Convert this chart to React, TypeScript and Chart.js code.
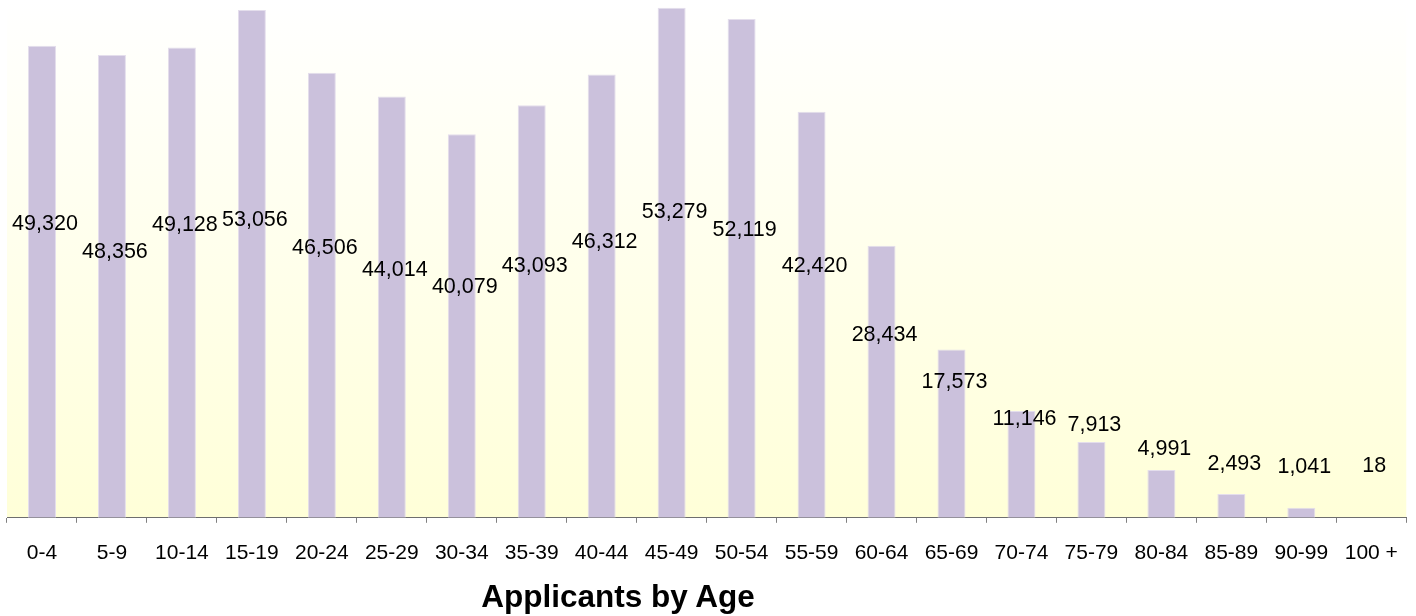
import React, { useEffect, useRef } from "react";
import { Chart, registerables } from "chart.js";

Chart.register(...registerables);

const categories = [
  "0-4", "5-9", "10-14", "15-19", "20-24", "25-29", "30-34", "35-39", "40-44", "45-49",
  "50-54", "55-59", "60-64", "65-69", "70-74", "75-79", "80-84", "85-89", "90-99", "100 +",
];

const applicants = [
  49320, 48356, 49128, 53056, 46506, 44014, 40079, 43093, 46312, 53279,
  52119, 42420, 28434, 17573, 11146, 7913, 4991, 2493, 1041, 18,
];

// Level (in data units) at which each value label sits in the original chart
const labelLevels = [
  30700, 27800, 30600, 31150, 28200, 25900, 24150, 26250, 28850, 31900,
  30100, 26250, 19100, 14200, 10350, 9700, 7200, 5650, 5250, 5450,
];

const titleText = "Applicants by Age";
const FONT = "'Liberation Sans', Arial, sans-serif";

const backgroundPlugin = {
  id: "plotBackground",
  beforeDraw(chart: any) {
    const { ctx, chartArea } = chart;
    if (!chartArea) return;
    const g = ctx.createLinearGradient(0, chartArea.top, 0, chartArea.bottom);
    g.addColorStop(0, "#FFFFFF");
    g.addColorStop(1, "#FFFFD8");
    ctx.save();
    ctx.fillStyle = g;
    ctx.fillRect(chartArea.left, chartArea.top, chartArea.right - chartArea.left, chartArea.bottom - chartArea.top);
    ctx.restore();
  },
};

const valueLabelPlugin = {
  id: "valueLabels",
  afterDatasetsDraw(chart: any) {
    const { ctx } = chart;
    const meta = chart.getDatasetMeta(0);
    const yScale = chart.scales.y;
    ctx.save();
    ctx.font = `21.5px ${FONT}`;
    ctx.fillStyle = "#000000";
    ctx.textAlign = "center";
    ctx.textBaseline = "middle";
    meta.data.forEach((bar: any, i: number) => {
      const y = yScale.getPixelForValue(labelLevels[i]);
      ctx.fillText(applicants[i].toLocaleString("en-US"), bar.x + 3, y);
    });
    ctx.restore();
  },
};

export default function App() {
  const canvasRef = useRef<HTMLCanvasElement | null>(null);

  useEffect(() => {
    document.body.style.margin = "0";
    const canvas = canvasRef.current;
    if (!canvas) return;
    const chart = new Chart(canvas, {
      type: "bar",
      data: {
        labels: categories,
        datasets: [
          {
            data: applicants,
            backgroundColor: "#CBC1DC",
            borderColor: "#E4DEEC",
            borderWidth: 1,
            barPercentage: 0.4,
            categoryPercentage: 1,
          },
        ],
      },
      options: {
        animation: false,
        responsive: false,
        maintainAspectRatio: false,
        layout: { padding: { left: 7, right: 6, top: 0, bottom: 32 } },
        plugins: {
          legend: { display: false },
          tooltip: { enabled: false },
          title: { display: false },
        },
        scales: {
          x: {
            offset: true,
            grid: {
              display: true,
              offset: true,
              drawOnChartArea: false,
              drawTicks: true,
              tickLength: 5,
              tickColor: "#808080",
            },
            border: { display: true, color: "#6E6E6E", width: 1 },
            ticks: {
              color: "#000000",
              font: { family: FONT, size: 21 },
              padding: 18,
              maxRotation: 0,
              autoSkip: false,
            },
          },
          y: {
            display: false,
            min: 0,
            max: 54100,
            grid: { display: false },
          },
        },
      },
      plugins: [backgroundPlugin, valueLabelPlugin],
    });
    return () => chart.destroy();
  }, []);

  return (
    <div style={{ position: "relative", width: 1416, height: 616, background: "#FFFFFF" }}>
      <canvas ref={canvasRef} width={1416} height={616} style={{ position: "absolute", left: 0, top: 0 }} />
      <div
        style={{
          position: "absolute",
          left: 418,
          width: 400,
          top: 581,
          lineHeight: "31.5px",
          textAlign: "center",
          fontFamily: FONT,
          fontWeight: "bold",
          fontSize: 31.5,
          color: "#000000",
          whiteSpace: "nowrap",
        }}
      >
        {titleText}
      </div>
    </div>
  );
}
